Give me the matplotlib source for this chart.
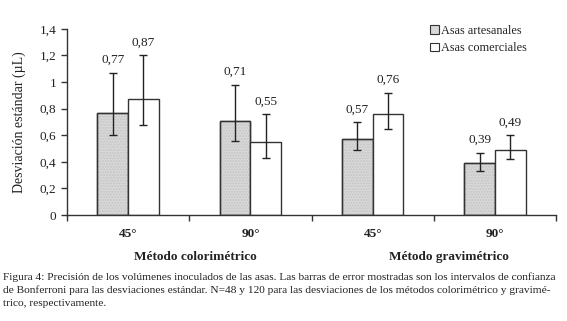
import matplotlib
matplotlib.use("Agg")
import matplotlib.pyplot as plt
import numpy as np
from matplotlib.patches import Patch

plt.rcParams['font.family'] = ['Liberation Serif', 'DejaVu Serif']

categories = ["45°", "90°", "45°", "90°"]
groups = ["Método colorimétrico", "Método gravimétrico"]
series_names = ["Asas artesanales", "Asas comerciales"]
artesanales = [0.77, 0.71, 0.57, 0.39]
comerciales = [0.87, 0.55, 0.76, 0.49]
art_low = [0.60, 0.56, 0.49, 0.33]
art_high = [1.07, 0.98, 0.70, 0.47]
com_low = [0.68, 0.43, 0.645, 0.42]
com_high = [1.20, 0.76, 0.92, 0.60]
value_labels_art = ["0,77", "0,71", "0,57", "0,39"]
value_labels_com = ["0,87", "0,55", "0,76", "0,49"]
yticks = [0, 0.2, 0.4, 0.6, 0.8, 1.0, 1.2, 1.4]
ytick_labels = ["0", "0,2", "0,4", "0,6", "0,8", "1", "1,2", "1,4"]
caption = [
    "Figura 4: Precisión de los volúmenes inoculados de las asas. Las barras de error mostradas son los intervalos de confianza",
    "de Bonferroni para las desviaciones estándar. N=48 y 120 para las desviaciones de los métodos colorimétrico y gravimé-",
    "trico, respectivamente.",
]

fig = plt.figure(figsize=(5.67, 3.21), dpi=100)
ax = fig.add_axes([0.118, 0.330, 0.863, 0.580])

x = np.arange(len(categories))
w = 0.25
tc = '#222222'
art = np.array(artesanales); com = np.array(comerciales)
ax.bar(x - w/2, art, w, color='#d9d9d9', edgecolor='#333333', linewidth=1.0)
ax.bar(x - w/2, art, w, color='none', edgecolor='#c4c4c4', linewidth=0, hatch='......')
ax.bar(x - w/2, art, w, color='none', edgecolor='#333333', linewidth=1.0,
       yerr=[art - np.array(art_low), np.array(art_high) - art],
       error_kw=dict(ecolor='#222222', elinewidth=1.0, capsize=3, capthick=1.0))
ax.bar(x + w/2, com, w, color='white', edgecolor='#333333', linewidth=1.0,
       yerr=[com - np.array(com_low), np.array(com_high) - com],
       error_kw=dict(ecolor='#222222', elinewidth=1.0, capsize=3, capthick=1.0))

for i in range(len(categories)):
    ax.text(x[i] - w/2, art_high[i] + 0.05, value_labels_art[i], ha='center', va='bottom', fontsize=9.5, color=tc)
    ax.text(x[i] + w/2, com_high[i] + 0.05, value_labels_com[i], ha='center', va='bottom', fontsize=9.5, color=tc)

ax.set_xlim(-0.5, len(categories) - 0.5)
ax.set_ylim(0, 1.4)
ax.set_yticks(yticks)
ax.set_yticklabels(ytick_labels, fontsize=9.5, color=tc)
ax.set_xticks(np.arange(len(categories) + 1) - 0.5)
ax.set_xticklabels([])
ax.set_xticks(x, minor=True)
ax.set_xticklabels(categories, minor=True, fontsize=9.5, color=tc, fontweight='bold')
ax.tick_params(axis='x', which='minor', length=0, pad=9)
ax.tick_params(axis='both', which='major', direction='out', length=4, width=1, color='#333333')
for s in ['top', 'right']:
    ax.spines[s].set_visible(False)
for s in ['left', 'bottom']:
    ax.spines[s].set_color('#333333')
    ax.spines[s].set_linewidth(1.0)

ax.set_ylabel("Desviación estándar (µL)", fontsize=10, color=tc, labelpad=10)

ax.text(0.55, -0.225, groups[0], transform=ax.get_xaxis_transform(), ha='center', va='center', fontsize=9.5, fontweight='bold', color=tc)
ax.text(2.62, -0.225, groups[1], transform=ax.get_xaxis_transform(), ha='center', va='center', fontsize=9.5, fontweight='bold', color=tc)

handles = [Patch(facecolor='#d9d9d9', edgecolor='#333333', linewidth=0.8),
           Patch(facecolor='white', edgecolor='#333333', linewidth=0.8)]
leg = ax.legend(handles, series_names, loc='upper left', bbox_to_anchor=(0.72, 1.08), frameon=False,
                fontsize=8.8, handlelength=0.7, handleheight=0.7, handletextpad=0.2, labelspacing=0.45)
for t in leg.get_texts():
    t.set_color(tc)

ys = [277, 290, 303]
for line, yp in zip(caption, ys):
    fig.text(3/567, 1 - yp/321, line, ha='left', va='center', fontsize=8.22, color=tc)

fig.savefig("out.png", dpi=100)
